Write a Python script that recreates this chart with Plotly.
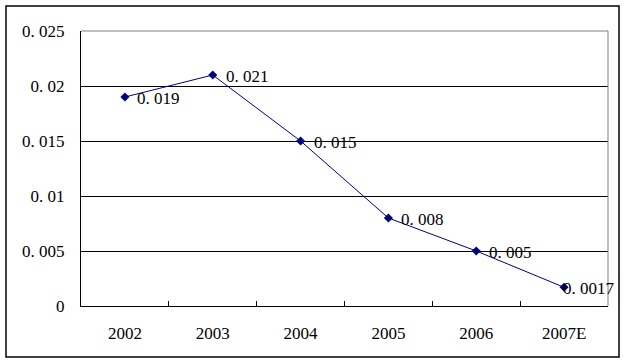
import plotly.graph_objects as go

years = ["2002", "2003", "2004", "2005", "2006", "2007E"]
values = [0.019, 0.021, 0.015, 0.008, 0.005, 0.0017]
labels = ["0. 019", "0. 021", "0. 015", "0. 008", "0. 005", "0. 0017"]
label_xshift = [10, 11, 11, 11, 11, -3]
ytick_vals = [0, 0.005, 0.01, 0.015, 0.02, 0.025]
ytick_text = ["0", "0. 005", "0. 01", "0. 015", "0. 02", "0. 025"]

FONT = "Liberation Serif"
FS = 17

fig = go.Figure()
fig.add_trace(go.Scatter(
    x=years, y=values, mode="lines+markers",
    line=dict(color="#000080", width=1),
    marker=dict(symbol="diamond", size=7, color="#000080"),
    cliponaxis=False, showlegend=False, hoverinfo="skip",
))

for i, (v, lab, xs) in enumerate(zip(values, labels, label_xshift)):
    fig.add_annotation(x=i, y=v, text=lab, showarrow=False, xanchor="left", yanchor="middle",
                       xshift=xs, yshift=-1, font=dict(family=FONT, size=FS, color="#000000"))

fig.update_layout(
    width=627, height=364,
    margin=dict(l=81, r=19, t=31, b=58, autoexpand=False),
    paper_bgcolor="white", plot_bgcolor="white",
    font=dict(family=FONT, size=FS, color="#000000"),
    xaxis=dict(
        type="category", range=[-0.5, 5.5], showgrid=False, showline=True, linecolor="#000000", linewidth=1,
        ticks="inside", tickson="boundaries", ticklen=5, tickcolor="#000000",
        ticklabelstandoff=12, tickfont=dict(family=FONT, size=FS),
        zeroline=False, fixedrange=True, automargin=False,
    ),
    yaxis=dict(
        range=[0, 0.025], tickvals=ytick_vals, ticktext=ytick_text,
        showgrid=True, gridcolor="#000000", gridwidth=1,
        showline=True, linecolor="#000000", linewidth=1, ticks="",
        ticklabelstandoff=12, tickfont=dict(family=FONT, size=FS),
        zeroline=False, fixedrange=True, automargin=False,
    ),
    shapes=[
        dict(type="rect", xref="paper", yref="paper", x0=-0.1423, x1=1.0209, y0=-0.1855, y1=1.0909,
             line=dict(color="#000000", width=1.5), fillcolor="rgba(0,0,0,0)", layer="below"),
        dict(type="line", xref="paper", yref="paper", x0=0, x1=1, y0=1, y1=1,
             line=dict(color="#808080", width=1)),
        dict(type="line", xref="paper", yref="paper", x0=1, x1=1, y0=0, y1=1,
             line=dict(color="#808080", width=1)),
    ],
)

fig.write_html("out.html", config={"displayModeBar": False},
               post_script="document.body.style.margin='0';document.body.style.overflow='hidden';")
